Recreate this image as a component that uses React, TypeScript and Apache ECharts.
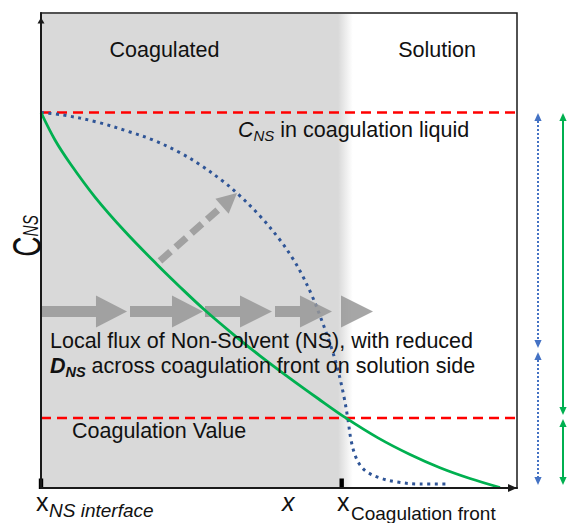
import React, { useEffect, useRef } from "react";
import * as echarts from "echarts";

const FONT = 'Arial, "Liberation Sans", Helvetica, sans-serif';

// Curves on a 0–100 (position) x 0–100 (C_NS) schematic scale
const greenProfile: [number, number][] = [
  [0, 79.05], [2.94, 73.26], [6.09, 68.38], [11.34, 61.26], [17.65, 54.0],
  [24.37, 47.05], [29.2, 42.32], [34.45, 37.41], [40.76, 32.04], [46.01, 27.83],
  [52.31, 23.09], [58.19, 18.84], [63.87, 14.86], [70.8, 10.55], [77.52, 7.05],
  [83.82, 4.27], [90.13, 2.0], [96.43, 0.1],
];
const blueProfile: [number, number][] = [
  [0, 79.05], [4.62, 78.53], [11.76, 77.05], [18.7, 74.95], [23.53, 73.26],
  [29.2, 70.59], [33.4, 68.06], [38.24, 64.57], [41.39, 61.89], [46.01, 57.26],
  [50.21, 52.21], [52.94, 48.23], [54.83, 44.91], [56.93, 40.48], [58.61, 36.27],
  [60.92, 29.79], [62.39, 24.78], [63.66, 19.16], [64.5, 14.32], [65.13, 10.11],
  [65.97, 6.95], [67.02, 4.84], [68.49, 3.37], [71.22, 2.11], [74.79, 1.26],
  [79.62, 0.84], [85.29, 0.84],
];
const levelLiquid = 79.05;
const levelCoagulation = 14.74;
const xMarks = [0, 63.17]; // x_NS interface, x_Coagulation front
const xMarkHeight = 2;
const coagulatedZone = [[0, 62.4, 65.5]]; // start, solid end, fade end
const fluxLevel = 37.16;
const fluxShaftHalf = 1.16;
const fluxHeadHalf = 3.37;
const fluxArrows = [
  [0, 11.55, 18.07],
  [18.7, 27.52, 34.03],
  [34.45, 41.81, 48.53],
  [49.16, 54.41, 61.13],
  [63.03, 63.03, 69.75],
];
const diagonalArrow = [[25.0, 47.79, 41.18, 62.11]];
// side range arrows: [x, yTop, yBottom]
const blueRanges = [[10, 78.95, 29.47], [10, 28.63, 0.63]];
const greenRanges = [[35, 78.95, 15.37], [35, 14.53, 0.63]];

const GRAY = "rgba(150,150,150,0.85)";

function rangeRenderer(color: string, dash: number[] | null) {
  return (params: any, api: any) => {
    const x = api.value(0);
    const pTop = api.coord([x, api.value(1)]);
    const pBot = api.coord([x, api.value(2)]);
    const hl = 8;
    const hw = 3.6;
    return {
      type: "group",
      children: [
        {
          type: "line",
          shape: { x1: pTop[0], y1: pTop[1] + hl, x2: pBot[0], y2: pBot[1] - hl },
          style: { stroke: color, lineWidth: 2, lineDash: dash || undefined },
        },
        {
          type: "polygon",
          shape: { points: [[pTop[0], pTop[1]], [pTop[0] - hw, pTop[1] + hl], [pTop[0] + hw, pTop[1] + hl]] },
          style: { fill: color },
        },
        {
          type: "polygon",
          shape: { points: [[pBot[0], pBot[1]], [pBot[0] - hw, pBot[1] - hl], [pBot[0] + hw, pBot[1] - hl]] },
          style: { fill: color },
        },
      ],
    };
  };
}

function txt(text: string, x: number, y: number, extra: any = {}) {
  return {
    type: "text",
    x,
    y,
    z: 20,
    silent: true,
    style: {
      text,
      fontFamily: FONT,
      fontSize: 21.5,
      fill: "#111111",
      align: "left",
      verticalAlign: "middle",
      ...extra,
    },
  };
}

export default function App() {
  const ref = useRef<HTMLDivElement>(null);
  useEffect(() => {
    if (!ref.current) return;
    const chart = echarts.init(ref.current, undefined, { renderer: "svg" });
    const option: any = {
      animation: false,
      backgroundColor: "#ffffff",
      grid: [
        { left: 41, top: 13, width: 476, height: 475, show: true, borderColor: "#1a1a1a", borderWidth: 1.5, backgroundColor: "transparent", z: 10 },
        { left: 528, top: 13, width: 38, height: 475, show: false },
      ],
      xAxis: [
        {
          type: "value", gridIndex: 0, min: 0, max: 100, z: 10,
          axisLine: { show: true, onZero: false, symbol: ["none", "triangle"], symbolSize: [8, 9], symbolOffset: [0, -4.5], lineStyle: { color: "#1a1a1a", width: 2 } },
          axisTick: { show: false }, axisLabel: { show: false }, splitLine: { show: false },
        },
        { type: "value", gridIndex: 1, min: 0, max: 38, show: false },
      ],
      yAxis: [
        {
          type: "value", gridIndex: 0, min: 0, max: 100, z: 10,
          axisLine: { show: true, onZero: false, symbol: ["none", "triangle"], symbolSize: [7, 6], symbolOffset: [0, -7.5], lineStyle: { color: "#1a1a1a", width: 2 } },
          axisTick: { show: false }, axisLabel: { show: false }, splitLine: { show: false },
        },
        { type: "value", gridIndex: 1, min: 0, max: 100, show: false },
      ],
      series: [
        {
          type: "custom", name: "coagulated zone", xAxisIndex: 0, yAxisIndex: 0, z: 1, silent: true,
          data: coagulatedZone,
          renderItem: (params: any, api: any) => {
            const a = api.value(0), s = api.value(1), e = api.value(2);
            const p0 = api.coord([a, 100]);
            const p1 = api.coord([e, 0]);
            const frac = (s - a) / (e - a);
            return {
              type: "rect",
              shape: { x: p0[0] + 1, y: p0[1] + 1, width: p1[0] - p0[0] - 1, height: p1[1] - p0[1] - 1 },
              style: {
                fill: new echarts.graphic.LinearGradient(0, 0, 1, 0, [
                  { offset: 0, color: "#d9d9d9" },
                  { offset: frac, color: "#d9d9d9" },
                  { offset: 1, color: "rgba(217,217,217,0)" },
                ]),
              },
            };
          },
        },
        {
          type: "line", name: "liquid level", z: 2, silent: true, showSymbol: false,
          data: [[0, levelLiquid], [100, levelLiquid]],
          lineStyle: { color: "#ff0000", width: 2.5, type: [10, 6] },
        },
        {
          type: "line", name: "coagulation value", z: 2, silent: true, showSymbol: false,
          data: [[0, levelCoagulation], [100, levelCoagulation]],
          lineStyle: { color: "#ff0000", width: 2.5, type: [10, 6] },
        },
        {
          type: "line", name: "reduced D", z: 3, silent: true, showSymbol: false, smooth: 0.35,
          data: blueProfile,
          lineStyle: { color: "#2f5597", width: 3, type: [3, 4.5], cap: "butt" },
        },
        {
          type: "custom", name: "flux", z: 4, silent: true,
          data: fluxArrows,
          renderItem: (params: any, api: any) => {
            const a = api.coord([api.value(0), fluxLevel]);
            const h = api.coord([api.value(1), fluxLevel]);
            const t = api.coord([api.value(2), fluxLevel]);
            const s = api.size([0, fluxShaftHalf])[1];
            const hh = api.size([0, fluxHeadHalf])[1];
            const y = a[1];
            return {
              type: "polygon",
              shape: {
                points: [[a[0], y - s], [h[0], y - s], [h[0], y - hh], [t[0], y], [h[0], y + hh], [h[0], y + s], [a[0], y + s]],
              },
              style: { fill: GRAY },
            };
          },
        },
        {
          type: "custom", name: "diag", z: 4, silent: true,
          data: diagonalArrow,
          renderItem: (params: any, api: any) => {
            const p1 = api.coord([api.value(0), api.value(1)]);
            const p2 = api.coord([api.value(2), api.value(3)]);
            const dx = p2[0] - p1[0], dy = p2[1] - p1[1];
            const len = Math.sqrt(dx * dx + dy * dy);
            const ux = dx / len, uy = dy / len;
            const nx = -uy, ny = ux;
            const hl = 20, hw = 10;
            const bx = p2[0] - ux * hl, by = p2[1] - uy * hl;
            return {
              type: "group",
              children: [
                { type: "line", shape: { x1: p1[0], y1: p1[1], x2: bx, y2: by }, style: { stroke: GRAY, lineWidth: 7, lineDash: [14, 7] } },
                { type: "polygon", shape: { points: [[p2[0], p2[1]], [bx + nx * hw, by + ny * hw], [bx - nx * hw, by - ny * hw]] }, style: { fill: GRAY } },
              ],
            };
          },
        },
        {
          type: "line", name: "D", z: 5, silent: true, showSymbol: false, smooth: 0.35,
          data: greenProfile,
          lineStyle: { color: "#00b050", width: 2.8 },
        },
        {
          type: "custom", name: "marks", z: 6, silent: true,
          data: xMarks.map((v) => [v]),
          renderItem: (params: any, api: any) => {
            const b = api.coord([api.value(0), 0]);
            const tp = api.coord([api.value(0), xMarkHeight]);
            return { type: "rect", shape: { x: b[0] - 2.2, y: tp[1], width: 4.4, height: b[1] - tp[1] + 1 }, style: { fill: "#000" } };
          },
        },
        {
          type: "custom", name: "blue ranges", xAxisIndex: 1, yAxisIndex: 1, z: 5, silent: true,
          data: blueRanges,
          renderItem: rangeRenderer("#4472c4", [2, 2]),
        },
        {
          type: "custom", name: "green ranges", xAxisIndex: 1, yAxisIndex: 1, z: 5, silent: true,
          data: greenRanges,
          renderItem: rangeRenderer("#00b050", null),
        },
      ],
      graphic: [
        txt("Coagulated", 164.5, 49.5, { align: "center" }),
        txt("Solution", 437, 49.5, { align: "center" }),
        txt("C", 238, 129.5, { fontStyle: "italic" }),
        txt("NS", 253.5, 135.8, { fontStyle: "italic", fontSize: 15 }),
        txt(" in coagulation liquid", 274.3, 129.5),
        txt("Local flux of Non-Solvent (NS), with reduced", 50, 341),
        txt("D", 50, 366, { fontStyle: "italic", fontWeight: "bold" }),
        txt("NS", 65.5, 372.3, { fontStyle: "italic", fontWeight: "bold", fontSize: 14.5 }),
        txt(" across coagulation front on solution side", 85.6, 366),
        txt("Coagulation Value", 72, 431),
        txt("x", 36, 501.5, { fontSize: 25 }),
        txt("NS interface", 49, 510.4, { fontSize: 19, fontStyle: "italic" }),
        txt("x", 282, 501.5, { fontSize: 25, fontStyle: "italic" }),
        txt("x", 337, 501.5, { fontSize: 25 }),
        txt("Coagulation front", 351, 513.4, { fontSize: 19 }),
        {
          type: "group", x: 40.7, y: 256.7, rotation: Math.PI / 2, scaleX: 0.7, z: 20,
          children: [
            txt("C", 0, -13.9, { fontSize: 40 }),
            txt("NS", 28.9, -10, { fontSize: 22, fontStyle: "italic" }),
          ],
        },
      ],
    };
    chart.setOption(option);
    return () => chart.dispose();
  }, []);
  return (
    <div
      ref={ref}
      style={{ position: "fixed", left: 0, top: 0, width: 567, height: 523 }}
    />
  );
}
